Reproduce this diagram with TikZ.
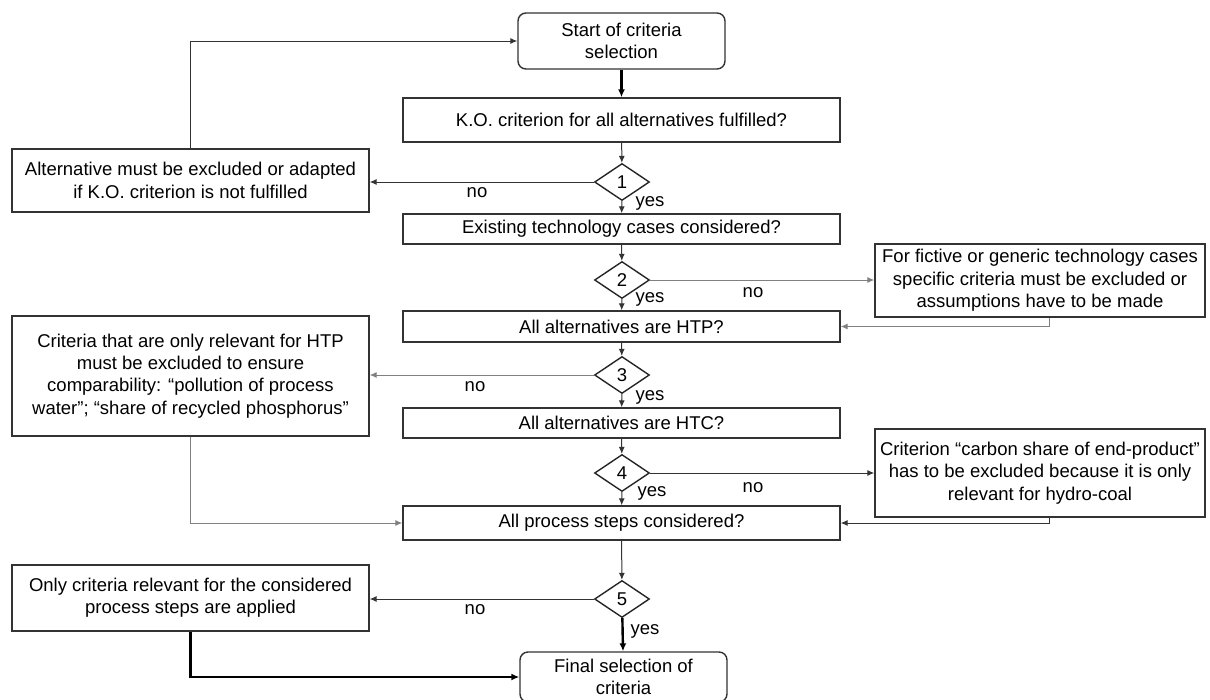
\documentclass[tikz,border=0pt]{standalone}
\usepackage{fontspec}
\setmainfont{Liberation Sans}
\usetikzlibrary{shapes.geometric,arrows.meta}
\begin{document}
\begin{tikzpicture}[x=1pt,y=-1pt,
  font=\fontsize{18.5}{22.3}\selectfont,
  box/.style={draw=black!80, line width=1.4pt, align=center, inner sep=2pt},
  term/.style={box, rounded corners=8pt},
  dia/.style={draw=black!85, line width=1.4pt, diamond, minimum width=55pt, minimum height=37pt, inner sep=0pt},
  arr/.style={-{Latex[length=7pt,width=6pt]}, line width=1pt, draw=black!80},
  garr/.style={-{Latex[length=7pt,width=6pt]}, line width=1pt, draw=black!50},
  tarr/.style={-{Latex[length=8pt,width=7pt]}, line width=2.4pt, draw=black},
  lbl/.style={inner sep=1pt}
]
\useasboundingbox (0,0) rectangle (1210,699);

\node[term, minimum width=207pt, minimum height=56pt] (start) at (621.5,41) {Start of criteria\\selection};
\node[box, minimum width=437pt, minimum height=44pt] (ko) at (621.5,120) {K.O. criterion for all alternatives fulfilled?};
\node[dia] (d1) at (622,182) {1};
\node[box, minimum width=357pt, minimum height=63pt] (alt) at (190.5,180.5) {Alternative must be excluded or adapted\\if K.O. criterion is not fulfilled};
\node[box, minimum width=437pt, minimum height=30pt] (exist) at (621.5,229) {Existing technology cases considered?};
\node[dia] (d2) at (622,280) {2};
\node[box, minimum width=330pt, minimum height=73pt] (fict) at (1040,280.5) {For fictive or generic technology cases\\specific criteria must be excluded or\\assumptions have to be made};
\node[box, minimum width=437pt, minimum height=31pt] (htp) at (621.5,326.5) {All alternatives are HTP?};
\node[dia] (d3) at (622,375) {3};
\node[box, minimum width=357pt, minimum height=120pt] (crit) at (190.5,376) {Criteria that are only relevant for HTP\\must be excluded to ensure\\comparability: “pollution of process\\water”; “share of recycled phosphorus”};
\node[box, minimum width=437pt, minimum height=30pt] (htc) at (621.5,423) {All alternatives are HTC?};
\node[dia] (d4) at (622,473) {4};
\node[box, minimum width=330pt, minimum height=88pt] (carb) at (1040,473) {Criterion “carbon share of end-product”\\has to be excluded because it is only\\relevant for hydro-coal};
\node[box, minimum width=437pt, minimum height=34pt] (proc) at (621.5,523) {All process steps considered?};
\node[dia] (d5) at (622,599) {5};
\node[box, minimum width=357pt, minimum height=66pt] (only) at (190.5,598) {Only criteria relevant for the considered\\process steps are applied};
\node[term, minimum width=207pt, minimum height=50pt] (final) at (623.5,677) {Final selection of\\criteria};

% main spine
\draw[tarr] (start) -- (ko);
\draw[arr] (ko) -- (d1);
\draw[arr] (d1) -- (exist);
\draw[arr] (exist) -- (d2);
\draw[arr] (d2) -- (htp);
\draw[arr] (htp) -- (d3);
\draw[arr] (d3) -- (htc);
\draw[arr] (htc) -- (d4);
\draw[arr] (d4) -- (proc);
\draw[arr] (proc) -- (d5);
\draw[tarr] (d5) -- (final);

% side branches
\draw[arr] (d1.west) -- (alt.east |- d1.west);
\draw[arr] (alt.north) |- (start.west);
\draw[garr] (d2.east) -- (fict.west |- d2.east);
\draw[garr] (fict.south -| 1049,0) |- (htp.east);
\draw[garr] (d3.west) -- (crit.east |- d3.west);
\draw[garr] (crit.south) |- (proc.west);
\draw[arr] (d4.east) -- (carb.west |- d4.east);
\draw[arr] (carb.south -| 1049,0) |- (proc.east);
\draw[arr] (d5.west) -- (only.east |- d5.west);
\draw[tarr] (only.south) |- (final.west);

% labels
\node[lbl] (n1) at (477,193) {no};
\node[lbl] (y1) at (650,203) {yes};
\node[lbl] (n2) at (753,293) {no};
\node[lbl] (y2) at (650,299) {yes};
\node[lbl] (n3) at (475,387) {no};
\node[lbl] (y3) at (650,397) {yes};
\node[lbl] (n4) at (753,488) {no};
\node[lbl] (y4) at (652,493) {yes};
\node[lbl] (n5) at (475,610) {no};
\node[lbl] (y5) at (645,631) {yes};
\end{tikzpicture}
\end{document}
